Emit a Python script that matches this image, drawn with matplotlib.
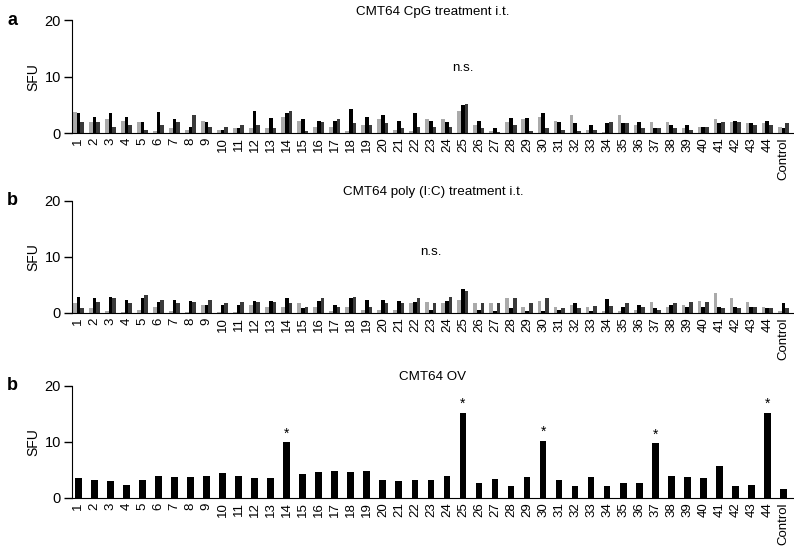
import matplotlib
matplotlib.use("Agg")
import matplotlib.pyplot as plt
import numpy as np

plt.rcParams['font.family'] = ['Liberation Sans', 'DejaVu Sans']

labels = [str(i) for i in range(1, 45)] + ["Control"]

# panel a: CpG treatment, three bars per peptide
cpg_light = [3.7, 1.9, 2.4, 2.2, 1.9, 0.4, 0.9, 0.6, 2.2, 0.6, 0.9, 0.9,
             0.9, 2.9, 2.2, 1.1, 1.1, 0.4, 1.4, 2.4, 0.6, 0.4, 2.4, 2.4,
             3.9, 1.4, 0.4, 1.9, 2.4, 2.9, 2.2, 3.2, 0.6, 0.1, 3.2, 1.4,
             1.9, 1.9, 0.9, 1.1, 2.4, 1.9, 1.7, 1.7, 1.1]
cpg_black = [3.5, 2.9, 3.5, 2.9, 1.9, 3.7, 2.4, 1.1, 1.9, 0.6, 0.9, 3.9,
             2.7, 3.5, 2.4, 2.2, 2.2, 4.2, 2.9, 3.2, 2.2, 3.5, 2.2, 1.9,
             4.9, 2.2, 0.9, 2.7, 2.7, 3.5, 1.9, 1.7, 1.4, 1.7, 1.7, 1.9,
             0.9, 1.4, 1.4, 1.1, 1.7, 2.2, 1.7, 2.2, 0.9]
cpg_dark = [1.9, 1.9, 1.1, 1.4, 0.6, 1.4, 1.9, 3.2, 1.1, 1.1, 1.4, 1.4,
            0.9, 3.9, 0.4, 1.9, 2.4, 1.7, 1.4, 1.7, 0.9, 1.1, 1.1, 1.1,
            5.2, 0.9, 0.2, 1.4, 0.3, 0.9, 0.6, 0.3, 0.6, 1.9, 1.7, 0.9,
            0.9, 0.9, 0.6, 1.1, 1.9, 1.9, 1.4, 1.4, 1.7]

# panel b: poly (I:C) treatment
pic_light = [1.7, 0.9, 0.4, 0.2, 0.6, 1.1, 0.4, 0.1, 1.4, 0.1, 0.1, 1.4,
             1.1, 1.1, 1.7, 1.1, 0.4, 1.1, 0.6, 0.6, 0.6, 1.7, 1.9, 1.7,
             2.4, 1.7, 1.7, 2.7, 1.1, 2.2, 1.1, 1.4, 1.1, 0.3, 0.4, 0.6,
             1.9, 1.1, 1.4, 2.2, 3.5, 2.7, 1.9, 1.1, 0.3]
pic_black = [2.9, 2.7, 2.9, 2.4, 2.7, 1.9, 2.4, 2.2, 1.4, 1.4, 1.4, 2.2,
             2.2, 2.7, 0.9, 2.2, 1.4, 2.7, 2.4, 2.4, 2.2, 1.9, 0.6, 2.2,
             4.2, 0.6, 0.4, 0.9, 0.4, 0.4, 0.6, 1.7, 0.4, 2.5, 1.1, 1.4,
             0.9, 1.4, 1.1, 1.1, 1.1, 1.1, 1.1, 0.9, 1.7]
pic_dark = [0.9, 1.9, 2.7, 1.7, 3.2, 2.4, 1.7, 1.9, 2.4, 1.7, 1.9, 1.9,
            1.9, 1.7, 1.1, 2.7, 1.1, 2.9, 1.1, 1.7, 1.7, 2.7, 1.7, 2.9,
            3.9, 1.7, 1.7, 2.7, 1.7, 2.7, 0.9, 0.9, 1.3, 1.3, 1.7, 1.1,
            0.6, 1.7, 1.9, 1.9, 0.9, 0.9, 1.1, 0.9, 0.9]

# panel c: OV
ov = [3.5, 3.2, 3.0, 2.4, 3.2, 3.9, 3.7, 3.7, 3.9, 4.4, 4.0, 3.5, 3.5,
      10.0, 4.2, 4.6, 4.9, 4.6, 4.9, 3.2, 3.0, 3.2, 3.2, 3.9, 15.2, 2.7,
      3.4, 2.2, 3.7, 10.2, 3.2, 2.1, 3.7, 2.1, 2.6, 2.6, 9.8, 4.0, 3.7,
      3.5, 5.7, 2.1, 2.3, 15.2, 1.6]
ov_sig = [14, 25, 30, 37, 44]

x = np.arange(len(labels))
w = 0.23

fig = plt.figure(figsize=(7.94, 5.51), dpi=100)
ax1 = fig.add_axes([0.0907, 0.7586, 0.909, 0.2045])
ax2 = fig.add_axes([0.0907, 0.432, 0.909, 0.2035])
ax3 = fig.add_axes([0.0907, 0.0962, 0.909, 0.2033])


def style(ax, title, letter):
    ax.set_ylim(0, 20)
    ax.set_xlim(-0.4, 44.65)
    ax.set_yticks([0, 10, 20])
    ax.set_xticks(x)
    ax.set_xticklabels(labels, rotation=90, fontsize=9.5)
    ax.tick_params(axis='x', length=0, pad=3)
    ax.tick_params(axis='y', labelsize=10.5, length=6, width=1, pad=2)
    ax.spines['top'].set_visible(False)
    ax.spines['right'].set_visible(False)
    ax.set_ylabel("SFU", fontsize=10, labelpad=3)
    ax.set_title(title, fontsize=9.6, pad=4)
    ax.text(-0.09, 1.0, letter, transform=ax.transAxes, fontsize=13,
            fontweight='bold', va='center', ha='left')


for ax, lt, bk, dk in [(ax1, cpg_light, cpg_black, cpg_dark),
                       (ax2, pic_light, pic_black, pic_dark)]:
    ax.bar(x - w, lt, w, color="#aaaaaa")
    ax.bar(x, bk, w, color="#000000")
    ax.bar(x + w, dk, w, color="#3a3a3a")

style(ax1, "CMT64 CpG treatment i.t.", "a")
ax1.text(24, 11.5, "n.s.", ha='center', va='center', fontsize=9.6)

style(ax2, "CMT64 poly (I:C) treatment i.t.", "b")
ax2.text(22, 10.9, "n.s.", ha='center', va='center', fontsize=9.6)

ax3.bar(x, ov, 0.42, color="#000000")
style(ax3, "CMT64 OV", "b")
for i in ov_sig:
    ax3.text(i - 1, ov[i - 1] + 0.3, "*", ha='center', va='bottom', fontsize=10)

fig.savefig("out.png", dpi=100)
